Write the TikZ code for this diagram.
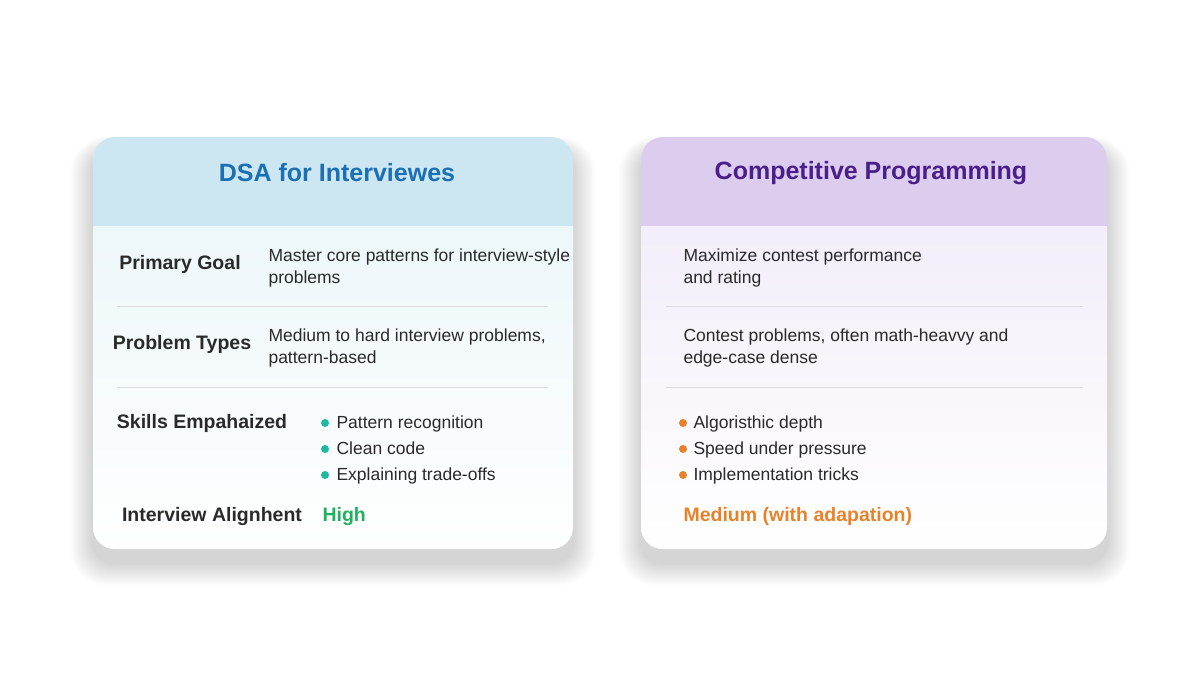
\documentclass[tikz,border=0pt]{standalone}
\usepackage{fontspec}
\setmainfont{Liberation Sans}
\definecolor{hdrA}{HTML}{CCE7F1}
\definecolor{hdrB}{HTML}{DCCDEE}
\definecolor{ttlA}{HTML}{1A6FB5}
\definecolor{ttlB}{HTML}{4A1F8A}
\definecolor{txt}{HTML}{2A2A2A}
\definecolor{teal}{HTML}{1FB8A0}
\definecolor{grn}{HTML}{22B060}
\definecolor{org}{HTML}{E8822A}
\definecolor{sep}{HTML}{DDDDDD}
\begin{document}
\begin{tikzpicture}[x=1pt,y=-1pt,
  lab/.style={font=\fontsize{19.5}{22}\selectfont\bfseries,text=txt},
  val/.style={font=\fontsize{17.5}{22}\selectfont,text=txt,anchor=west,align=left},
  item/.style={val,text height=13pt,text depth=4pt},
  ttl/.style={font=\fontsize{25}{28}\selectfont\bfseries},
  dot/.style={circle,inner sep=0pt,minimum size=8pt},
  sepl/.style={draw=sep,line width=1pt}]
\useasboundingbox (0,0) rectangle (1200,686);
\fill[white] (0,0) rectangle (1200,686);
% soft shadows
\foreach \k in {1,...,14}{
  \fill[black,opacity=0.01,rounded corners=22pt+\k pt] (93-\k*1.6,137+14-\k*1.0) rectangle (573+\k*1.6,549+14+\k*1.6);
  \fill[black,opacity=0.01,rounded corners=22pt+\k pt] (641-\k*1.6,137+14-\k*1.0) rectangle (1107+\k*1.6,549+14+\k*1.6);
}
\begin{scope}
\clip[rounded corners=22pt] (93,137) rectangle (573,549);
\fill[white] (93,137) rectangle (573,549);
\shade[top color=hdrA!35,bottom color=white] (93,226) rectangle (573,549);
\fill[hdrA] (93,137) rectangle (573,226);
\end{scope}
\begin{scope}
\clip[rounded corners=22pt] (641,137) rectangle (1107,549);
\fill[white] (641,137) rectangle (1107,549);
\shade[top color=hdrB!35,bottom color=white] (641,226) rectangle (1107,549);
\fill[hdrB] (641,137) rectangle (1107,226);
\end{scope}
\node[ttl,text=ttlA] (tA) at (337,173) {DSA for Interviewes};
\node[ttl,text=ttlB] (tB) at (871,173) {Competitive Programming};
% left rows
\node[lab] (l1) at (180,264) {Primary Goal};
\node[val] (v1) at (265,268) {Master core patterns for interview-style\\problems};
\draw[sepl] (117,306) -- (548,306);
\node[lab] (l2) at (182,344) {Problem Types};
\node[val] (v2) at (265,348) {Medium to hard interview problems,\\pattern-based};
\draw[sepl] (117,387) -- (548,387);
\node[lab] (l3) at (202,423) {Skills Empahaized};
\foreach \t [count=\i] in {Pattern recognition,Clean code,Explaining trade-offs}{
  \node[dot,fill=teal] (da\i) at (325,397+26*\i) {};
  \node[item] (sa\i) at (333,398+26*\i) {\t};
}
\node[lab] (l4) at (212,516) {Interview Alignhent};
\node[val,font=\fontsize{19.5}{22}\selectfont\bfseries,text=grn] (h) at (319,516) {High};
% right rows
\node[val] (r1) at (680,268) {Maximize contest performance\\and rating};
\draw[sepl] (666,306) -- (1083,306);
\node[val] (r2) at (680,348) {Contest problems, often math-heavvy and\\edge-case dense};
\draw[sepl] (666,387) -- (1083,387);
\foreach \t [count=\i] in {Algoristhic depth,Speed under pressure,Implementation tricks}{
  \node[dot,fill=org] (db\i) at (683,397+26*\i) {};
  \node[item] (sb\i) at (690,398+26*\i) {\t};
}
\node[val,font=\fontsize{19.5}{22}\selectfont\bfseries,text=org] (m) at (680,516) {Medium (with adapation)};
\end{tikzpicture}
\end{document}
